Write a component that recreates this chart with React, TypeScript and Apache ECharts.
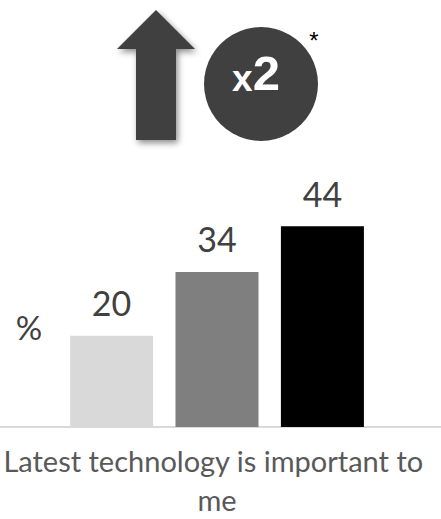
import React, { useEffect, useRef } from "react";
import * as echarts from "echarts";

const categories = ["Latest technology is important to me"];
const seriesNames = ["Group 1", "Group 2", "Group 3"];
const seriesValues = [[20], [34], [44]];
const seriesColors = ["#d9d9d9", "#7f7f7f", "#000000"];
const multiplierText = "2";

export default function App() {
  const ref = useRef<HTMLDivElement>(null);
  useEffect(() => {
    if (!ref.current) return;
    const chart = echarts.init(ref.current, null, { renderer: "svg" });
    chart.setOption({
      animation: false,
      grid: { left: -7, right: 0, top: 199, bottom: 92, containLabel: false, outerBoundsMode: "none" },
      xAxis: {
        type: "category",
        data: categories,
        axisLine: { show: true, lineStyle: { color: "#d9d9d9", width: 2 } },
        axisTick: { show: false },
        axisLabel: {
          color: "#595959",
          fontFamily: "Lato",
          fontSize: 29,
          lineHeight: 39,
          margin: 14,
          width: 436,
          overflow: "break",
          interval: 0,
        },
      },
      yAxis: { type: "value", min: 0, max: 50, show: false, splitLine: { show: false } },
      series: seriesNames.map((name, i) => ({
        name,
        type: "bar",
        data: seriesValues[i],
        barWidth: 83,
        barGap: "27%",
        itemStyle: { color: seriesColors[i] },
        label: {
          show: true,
          position: "top",
          distance: 16,
          color: "#404040",
          fontFamily: "Lato",
          fontSize: 34,
        },
      })),
      graphic: [
        {
          type: "polygon",
          shape: {
            points: [
              [117, 49],
              [156, 10],
              [195, 49],
              [176, 49],
              [176, 140],
              [136, 140],
              [136, 49],
            ],
          },
          style: {
            fill: "#404040",
            shadowBlur: 6,
            shadowColor: "rgba(0,0,0,0.45)",
            shadowOffsetX: 2,
            shadowOffsetY: 3,
          },
        },
        {
          type: "circle",
          shape: { cx: 261, cy: 84, r: 57 },
          style: { fill: "#404040" },
        },
        {
          type: "text",
          x: 256,
          y: 97,
          style: {
            text: "{x|x}{n|" + multiplierText + "}",
            align: "center",
            verticalAlign: "bottom",
            rich: {
              x: { fontFamily: "Liberation Sans", fontWeight: "bold", fontSize: 37, fill: "#ffffff", verticalAlign: "bottom" },
              n: { fontFamily: "Liberation Sans", fontWeight: "bold", fontSize: 49, fill: "#ffffff", verticalAlign: "bottom" },
            },
          },
        },
        {
          type: "text",
          x: 314,
          y: 40,
          style: {
            text: "*",
            align: "center",
            verticalAlign: "middle",
            fontFamily: "Liberation Sans",
            fontSize: 24,
            fill: "#000000",
          },
        },
        {
          type: "text",
          x: 29,
          y: 327,
          style: {
            text: "%",
            align: "center",
            verticalAlign: "middle",
            fontFamily: "Lato",
            fontSize: 33,
            fill: "#404040",
          },
        },
      ],
    });
    return () => chart.dispose();
  }, []);
  return <div ref={ref} style={{ width: 441, height: 519, position: "absolute", left: 0, top: 0 }} />;
}
